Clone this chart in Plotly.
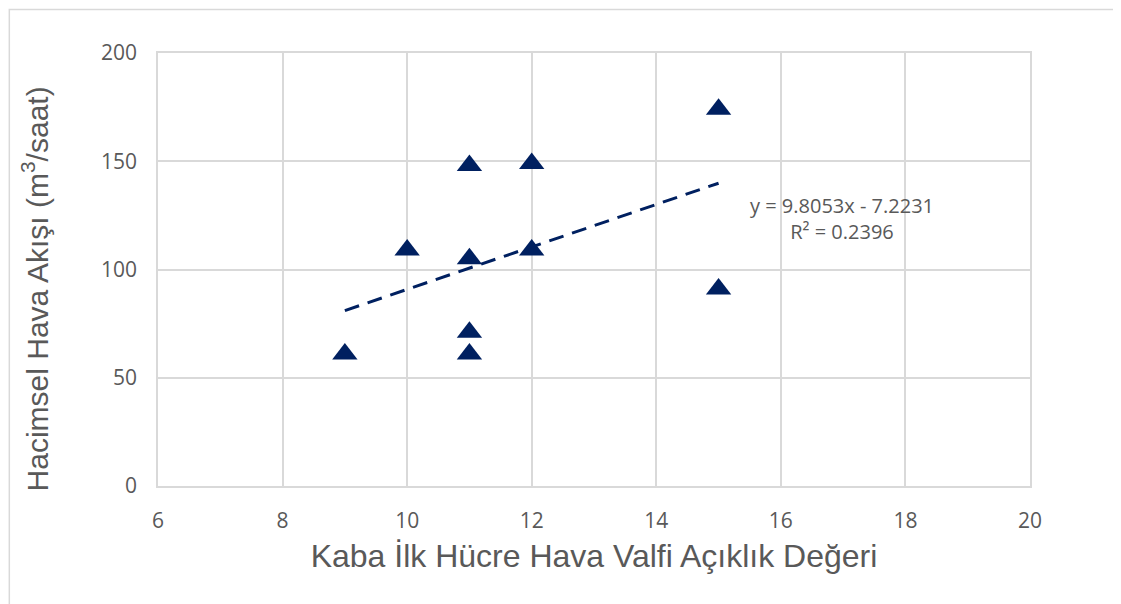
import plotly.graph_objects as go

# valve opening vs volumetric air flow
valve_opening = [9, 10, 11, 11, 11, 11, 12, 12, 15, 15]
air_flow = [61, 109, 148, 105, 71, 61, 149, 109, 174, 91]

# linear trendline as reported on the chart
slope = 9.8053
intercept = -7.2231
r_squared = 0.2396
trend_x = [min(valve_opening), max(valve_opening)]
trend_y = [slope * v + intercept for v in trend_x]

navy = "#002060"
grey_text = "#595959"
grid = "#d9d9d9"

fig = go.Figure()

fig.add_trace(go.Scatter(x=trend_x, y=trend_y, mode="lines",
                         line=dict(color=navy, width=3, dash="15px,9px"),
                         showlegend=False, hoverinfo="skip"))

fig.add_trace(go.Scatter(x=valve_opening, y=air_flow, mode="markers",
                         marker=dict(symbol="triangle-up", size=22, color=navy),
                         showlegend=False))

fig.add_annotation(x=16.98, y=123.5, xref="x", yref="y",
                   text=f"y = {slope}x - {abs(intercept)}<br>R² = {r_squared}",
                   showarrow=False, xanchor="center", yanchor="middle", align="center",
                   font=dict(family="Open Sans", size=20, color=grey_text))

# y axis title sits a bit below the plot centre, as in the original
fig.add_annotation(x=-0.1405, y=0.455, xref="paper", yref="paper",
                   text="Hacimsel Hava Akışı (m<sup>3</sup>/saat)", textangle=-90,
                   showarrow=False, xanchor="center", yanchor="middle",
                   font=dict(family="Liberation Sans", size=30, color=grey_text))

# light outer frame of the chart area
fig.add_shape(type="rect", xref="paper", yref="paper",
              x0=-0.1705, x1=1.3, y0=-0.5, y1=1.1005,
              line=dict(color=grid, width=1.5), fillcolor="rgba(0,0,0,0)")

fig.update_layout(
    width=1113, height=596,
    margin=dict(l=150, r=91, t=45, b=118),
    paper_bgcolor="white", plot_bgcolor="white",
    font=dict(family="Liberation Sans", color=grey_text),
    xaxis=dict(range=[6, 20], dtick=2, showgrid=True, gridcolor=grid, gridwidth=1.5,
               zeroline=False, showline=True, linecolor=grid, linewidth=1.5, mirror=True,
               ticks="", ticklabelstandoff=15,
               tickfont=dict(family="Open Sans", size=21, color=grey_text),
               title=dict(text="Kaba İlk Hücre Hava Valfi Açıklık Değeri", standoff=12,
                          font=dict(family="Liberation Sans", size=32, color=grey_text))),
    yaxis=dict(range=[0, 200], dtick=50, showgrid=True, gridcolor=grid, gridwidth=1.5,
               zeroline=False, showline=True, linecolor=grid, linewidth=1.5, mirror=True,
               ticks="", ticklabelstandoff=15,
               tickfont=dict(family="Open Sans", size=21, color=grey_text)),
)

fig.write_html("out.html")
